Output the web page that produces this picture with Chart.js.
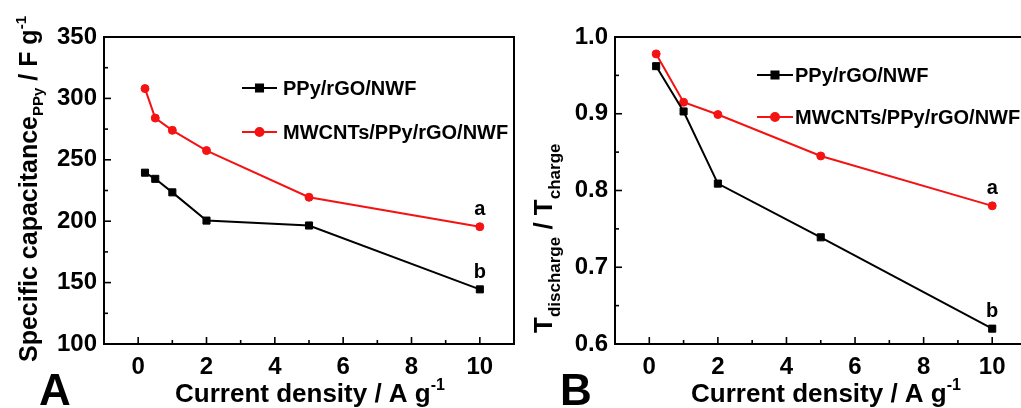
<!DOCTYPE html>
<html><head><meta charset="utf-8">
<script src="https://cdn.jsdelivr.net/npm/chart.js@4/dist/chart.umd.min.js"></script>
<style>
html,body{margin:0;padding:0;background:#fff;overflow:hidden;width:1021px;height:408px;}
#wrap{position:relative;width:1021px;height:408px;overflow:hidden;background:#fff;}
canvas{position:absolute;top:0;}
#cA{left:0;width:515px;height:408px;}
#cB{left:515px;width:516px;height:408px;}
</style></head><body>
<div id="wrap"><canvas id="cA" width="515" height="408"></canvas><canvas id="cB" width="516" height="408"></canvas></div>
<script>
// ---------- data ----------
const seriesNames = ['PPy/rGO/NWF', 'MWCNTs/PPy/rGO/NWF'];
const seriesTags = ['b', 'a'];
// Panel A: specific capacitance vs current density
const currentA = [0.2, 0.5, 1, 2, 5, 10];
const capPPy = [239.5, 234.5, 223.5, 200.5, 196.5, 144.5];
const capMWCNT = [308, 284, 274, 257.5, 219.5, 195.5];
// Panel B: Tdischarge/Tcharge vs current density
const currentB = [0.2, 1, 2, 5, 10];
const ratioPPy = [0.962, 0.903, 0.809, 0.739, 0.620];
const ratioMWCNT = [0.978, 0.915, 0.899, 0.845, 0.780];
// ticks
const xTickValues = [0, 2, 4, 6, 8, 10];
const xMinorValues = [1, 3, 5, 7, 9];
const yTicksA = [100, 150, 200, 250, 300, 350];
const yMinorA = [125, 175, 225, 275, 325];
const yTicksB = [0.6, 0.7, 0.8, 0.9, 1.0];
const yMinorB = [0.65, 0.75, 0.85, 0.95];

// ---------- helpers ----------
const FAM = "'Liberation Sans', Arial, Helvetica, sans-serif";
Chart.defaults.font.family = FAM;
const RED = '#f41212', BLACK = '#000';

function richWidth(ctx, parts) {
  let w = 0;
  parts.forEach(p => { ctx.font = 'bold ' + p.s + 'px ' + FAM; w += ctx.measureText(p.t).width; });
  return w;
}
function drawRich(ctx, parts, x, y) {
  let cx = x;
  ctx.textAlign = 'left'; ctx.textBaseline = 'alphabetic';
  parts.forEach(p => {
    ctx.font = 'bold ' + p.s + 'px ' + FAM;
    ctx.fillText(p.t, cx, y + (p.dy || 0));
    cx += ctx.measureText(p.t).width;
  });
}

const deco = {
  id: 'deco',
  afterDraw(chart, args, o) {
    const {ctx, chartArea: a, scales: {x, y}} = chart;
    ctx.save();
    ctx.fillStyle = '#000'; ctx.strokeStyle = '#000';
    // frame
    ctx.lineWidth = 2;
    ctx.strokeRect(a.left, a.top, a.right - a.left, a.bottom - a.top);
    // inward ticks
    ctx.lineWidth = 1.6;
    const tick = (px, py, dx, dy) => { ctx.beginPath(); ctx.moveTo(px, py); ctx.lineTo(px + dx, py + dy); ctx.stroke(); };
    x.ticks.forEach(t => tick(x.getPixelForValue(t.value), a.bottom, 0, -7));
    o.xMinor.forEach(v => tick(x.getPixelForValue(v), a.bottom, 0, -4));
    y.ticks.forEach(t => tick(a.left, y.getPixelForValue(t.value), 7, 0));
    o.yMinor.forEach(v => tick(a.left, y.getPixelForValue(v), 4, 0));
    // legend
    chart.data.datasets.forEach((ds, i) => {
      const ly = o.legend.y[i];
      ctx.strokeStyle = ds.borderColor; ctx.lineWidth = 2;
      ctx.beginPath(); ctx.moveTo(o.legend.x, ly); ctx.lineTo(o.legend.x + o.legend.len, ly); ctx.stroke();
      ctx.fillStyle = ds.backgroundColor;
      Chart.helpers.drawPoint(ctx, {pointStyle: ds.pointStyle, radius: ds.pointRadius, rotation: 0, borderWidth: 1}, o.legend.x + o.legend.len / 2, ly);
      ctx.fillStyle = '#000';
      ctx.font = 'bold 20px ' + FAM; ctx.textAlign = 'left'; ctx.textBaseline = 'middle';
      ctx.fillText(ds.label, o.legend.x + o.legend.len + o.legend.gap, ly + 1);
    });
    // curve tags a / b
    chart.data.datasets.forEach((ds, i) => {
      const m = chart.getDatasetMeta(i); const p = m.data[m.data.length - 1];
      ctx.fillStyle = '#000'; ctx.font = 'bold 20px ' + FAM; ctx.textAlign = 'center'; ctx.textBaseline = 'middle';
      ctx.fillText(seriesTags[i], p.x, p.y - 17);
    });
    // x title
    ctx.fillStyle = '#000';
    const xw = richWidth(ctx, o.xTitle);
    drawRich(ctx, o.xTitle, o.xTitleCx - xw / 2, 402);
    // y title (rotated)
    ctx.save();
    ctx.translate(o.yTitlePos.x, o.yTitlePos.y);
    ctx.rotate(-Math.PI / 2);
    drawRich(ctx, o.yTitle, 0, 0);
    ctx.restore();
    // panel letter
    ctx.font = 'bold 44px ' + FAM; ctx.textAlign = 'left'; ctx.textBaseline = 'alphabetic';
    ctx.fillText(o.letter, o.letterX, 405);
    ctx.restore();
  }
};

function makeChart(id, xs, s1, s2, yMin, yMax, yTicks, yMinor, yFmt, yWidth, padRight, extra) {
  const pts = arr => arr.map((v, i) => ({x: xs[i], y: v}));
  return new Chart(document.getElementById(id), {
    type: 'line',
    data: {
      datasets: [
        {label: seriesNames[0], data: pts(s1), borderColor: BLACK, backgroundColor: BLACK, pointStyle: 'rect', pointRadius: 5, pointBorderWidth: 1, borderWidth: 2, tension: 0},
        {label: seriesNames[1], data: pts(s2), borderColor: RED, backgroundColor: RED, pointStyle: 'circle', pointRadius: 4, pointBorderWidth: 1, borderWidth: 2, tension: 0}
      ]
    },
    options: {
      responsive: false, animation: false, devicePixelRatio: 1,
      layout: {autoPadding: false, padding: {top: 37, right: padRight, left: 0, bottom: 0}},
      scales: {
        x: {type: 'linear', min: -1, max: 11,
          grid: {display: false, drawTicks: false}, border: {display: false},
          afterBuildTicks: s => { s.ticks = xTickValues.map(v => ({value: v})); },
          afterFit: s => { s.height = 64; },
          ticks: {color: '#000', padding: 9, maxRotation: 0, autoSkip: false, font: {size: 24, weight: 'bold'}}},
        y: {type: 'linear', min: yMin, max: yMax,
          grid: {display: false, drawTicks: false}, border: {display: false},
          afterBuildTicks: s => { s.ticks = yTicks.map(v => ({value: v})); },
          afterFit: s => { s.width = yWidth; },
          ticks: {color: '#000', padding: 7, autoSkip: false, font: {size: 24, weight: 'bold'}, callback: yFmt}}
      },
      plugins: {legend: {display: false}, tooltip: {enabled: false},
        deco: Object.assign({xMinor: xMinorValues, yMinor: yMinor}, extra)}
    },
    plugins: [deco]
  });
}

makeChart('cA', currentA, capPPy, capMWCNT, 100, 350, yTicksA, yMinorA, v => String(v), 104, 1, {
  legend: {x: 242, len: 35, gap: 6, y: [88, 132]},
  xTitle: [{t: 'Current density / A g', s: 26}, {t: '-1', s: 16, dy: -12}],
  xTitleCx: 310,
  yTitle: [{t: 'Specific capacitance', s: 25}, {t: 'PPy', s: 15, dy: 6}, {t: ' / F g', s: 25}, {t: '-1', s: 15, dy: -11}],
  yTitlePos: {x: 37, y: 362},
  letter: 'A', letterX: 39
});

makeChart('cB', currentB, ratioPPy, ratioMWCNT, 0.6, 1.0, yTicksB, yMinorB, v => Number(v).toFixed(1), 100, 4.5, {
  legend: {x: 242, len: 36, gap: 2, y: [75, 117]},
  xTitle: [{t: 'Current density / A g', s: 26}, {t: '-1', s: 16, dy: -12}],
  xTitleCx: 311,
  yTitle: [{t: 'T', s: 26}, {t: 'discharge', s: 17, dy: 8}, {t: ' / T', s: 26}, {t: 'charge', s: 17, dy: 8}],
  yTitlePos: {x: 37, y: 333},
  letter: 'B', letterX: 45
});
</script>
</body></html>
